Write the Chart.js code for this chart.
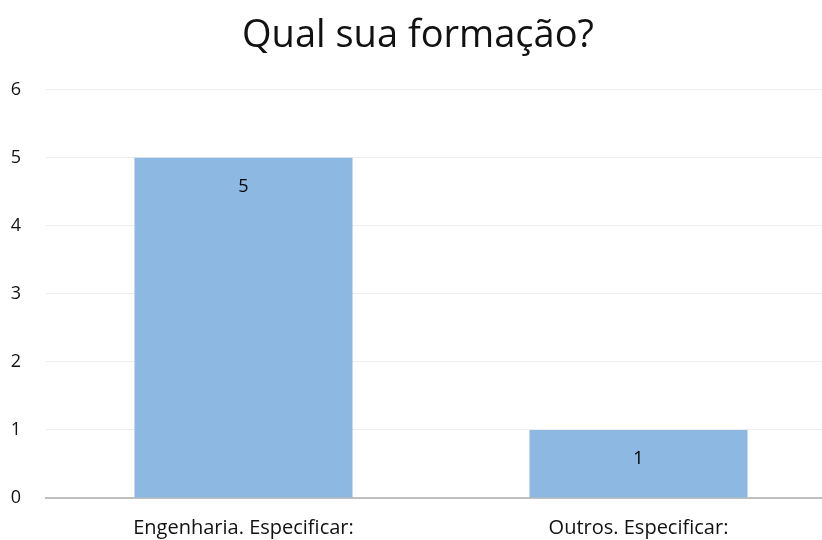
<!DOCTYPE html>
<html>
<head>
<meta charset="utf-8">
<script src="https://cdn.jsdelivr.net/npm/chart.js@4.4.0/dist/chart.umd.min.js"></script>
<style>
  html, body { margin: 0; padding: 0; background: #fff; overflow: hidden; }
  #wrap { width: 836px; height: 540px; }
</style>
</head>
<body>
<div id="wrap"><canvas id="chart-formacao"></canvas></div>
<script>
const categorias = ['Engenharia. Especificar:', 'Outros. Especificar:'];
const respostas = [5, 1];
const yTicks = [0, 1, 2, 3, 4, 5, 6];

// rótulos dentro das barras, perto do topo
const rotulosBarra = {
  id: 'rotulosBarra',
  afterDatasetsDraw(chart) {
    const ctx = chart.ctx;
    const meta = chart.getDatasetMeta(0);
    ctx.save();
    ctx.font = '18px "Open Sans", sans-serif';
    ctx.fillStyle = '#000';
    ctx.textAlign = 'center';
    ctx.textBaseline = 'middle';
    meta.data.forEach((bar, i) => {
      ctx.fillText(String(respostas[i]), bar.x, bar.y + 29);
    });
    ctx.restore();
  }
};

const ctx = document.getElementById('chart-formacao').getContext('2d');
new Chart(ctx, {
  type: 'bar',
  data: {
    labels: categorias,
    datasets: [{
      label: 'Qual sua formação?',
      data: respostas,
      backgroundColor: '#8CB8E2',
      barPercentage: 0.552,
      categoryPercentage: 1
    }]
  },
  options: {
    responsive: true,
    maintainAspectRatio: false,
    animation: false,
    layout: { padding: 0 },
    plugins: {
      legend: { display: false },
      tooltip: { enabled: false },
      title: {
        display: true,
        text: 'Qual sua formação?',
        color: '#111',
        font: { family: '"Open Sans", sans-serif', size: 38, weight: 'normal' },
        padding: { top: 13, bottom: 31 }
      }
    },
    scales: {
      x: {
        grid: { display: false, drawTicks: false },
        border: { color: '#BFBFBF', width: 2 },
        ticks: {
          color: '#111',
          font: { family: '"Open Sans", sans-serif', size: 20 },
          padding: 18,
          maxRotation: 0
        },
        afterFit(scale) { scale.height = 42; }
      },
      y: {
        min: 0,
        max: 6,
        afterBuildTicks(scale) { scale.ticks = yTicks.map(v => ({ value: v })); },
        grid: { color: '#EDEDED', lineWidth: 1, drawTicks: false },
        border: { display: false },
        ticks: {
          color: '#111',
          font: { family: '"Open Sans", sans-serif', size: 18 },
          padding: 25,
          align: 'center'
        },
        afterFit(scale) { scale.width = 46; }
      }
    }
  },
  plugins: [rotulosBarra]
});
</script>
</body>
</html>
